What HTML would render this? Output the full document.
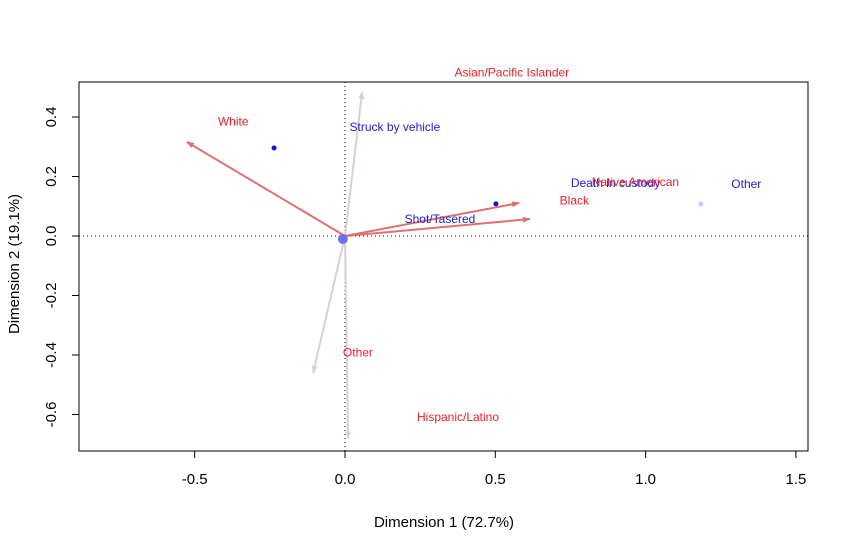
<!DOCTYPE html>
<html><head><meta charset="utf-8"><style>
body{margin:0;background:#fff;font-family:"Liberation Sans",Arial,sans-serif}
svg text{font-family:"Liberation Sans",Arial,sans-serif}
</style></head><body>
<svg id="chart" width="850" height="550" xmlns="http://www.w3.org/2000/svg">
<defs>
<marker id="ahR" markerWidth="8" markerHeight="8" refX="7" refY="3" orient="auto" markerUnits="userSpaceOnUse"><path d="M0,0 L8,3 L0,6 z" fill="#e07070"/></marker>
<marker id="ahG" markerWidth="8" markerHeight="8" refX="7" refY="3" orient="auto" markerUnits="userSpaceOnUse"><path d="M0,0 L8,3 L0,6 z" fill="#dccfd2"/></marker>
</defs>
<g id="plot"></g>
</svg>
<script>
const xTicks=[-0.5,0.0,0.5,1.0,1.5];
const yTicks=[-0.6,-0.4,-0.2,0.0,0.2,0.4];
const arrowX=[-0.526,0.579,0.615,0.057,-0.106,0.010];
const arrowY=[0.316,0.111,0.057,0.484,-0.460,-0.680];
const arrowKind=["race","race","race","light","light","light"];
const pointX=[-0.236,0.502,1.184,-0.007];
const pointY=[0.296,0.108,0.108,-0.010];
const pointKind=["dark","dark","faint","big"];
const labelText=["White","Asian/Pacific Islander","Struck by vehicle","Death in custody","Native American","Other","Black","Shot/Tasered","Other","Hispanic/Latino"];
const labelX=[-0.372,0.555,0.166,0.900,0.966,1.335,0.763,0.316,0.043,0.376];
const labelY=[0.385,0.550,0.367,0.178,0.182,0.175,0.120,0.057,-0.392,-0.608];
const labelColor=["r","r","b","b","r","b","r","b","r","r"];
const L=79,R=808,T=82,B=451;
const sx=v=>345+300.6*v, sy=v=>236-297.5*v;
const g=document.getElementById('plot');
const NS="http://www.w3.org/2000/svg";
function mk(t,a,txt){const e=document.createElementNS(NS,t);for(const k in a)e.setAttribute(k,a[k]);if(txt!==undefined)e.textContent=txt;g.appendChild(e);return e;}
let e;
e=mk('rect',{x:L,y:T,width:R-L,height:B-T,fill:'none',stroke:'#000','stroke-width':1});

e=mk('line',{x1:L,x2:R,y1:sy(0),y2:sy(0),stroke:'#000','stroke-dasharray':'1,3'});

e=mk('line',{x1:sx(0),x2:sx(0),y1:T,y2:B,stroke:'#000','stroke-dasharray':'1,3'});

xTicks.forEach(v=>{
 e=mk('line',{x1:sx(v),x2:sx(v),y1:B,y2:B+7,stroke:'#000'});
 
 e=mk('text',{x:sx(v),y:B+33,'text-anchor':'middle','font-size':15},v.toFixed(1));
 
});
yTicks.forEach(v=>{
 e=mk('line',{x1:L-7,x2:L,y1:sy(v),y2:sy(v),stroke:'#000'});
 
 e=mk('text',{x:0,y:0,'text-anchor':'middle','font-size':15,transform:`translate(${L-23},${sy(v)}) rotate(-90)`},v.toFixed(1));
 
});
e=mk('text',{x:444,y:527,'text-anchor':'middle','font-size':15},'Dimension 1 (72.7%)');

e=mk('text',{x:0,y:0,'text-anchor':'middle','font-size':15,transform:'translate(19,264) rotate(-90)'},'Dimension 2 (19.1%)');

arrowX.forEach((v,i)=>{
 const red=arrowKind[i]==='race';
 e=mk('line',{x1:sx(0),y1:sy(0),x2:sx(v),y2:sy(arrowY[i]),stroke:red?'#e07070':'#dccfd2','stroke-width':2,'marker-end':red?'url(#ahR)':'url(#ahG)'});
 
});
pointX.forEach((v,i)=>{
 const k=pointKind[i];
 e=mk('circle',{cx:sx(v),cy:sy(pointY[i]),r:k==='big'?5:2.5,fill:k==='dark'?'#1010e0':k==='faint'?'#c8c8ee':'#7070ee'});
 
});
labelText.forEach((t,i)=>{
 e=mk('text',{x:sx(labelX[i]),y:sy(labelY[i])+4,'text-anchor':'middle','font-size':12,fill:labelColor[i]==='r'?'#e8202a':'#2020d0'},t);
 
});
</script>
</body></html>
